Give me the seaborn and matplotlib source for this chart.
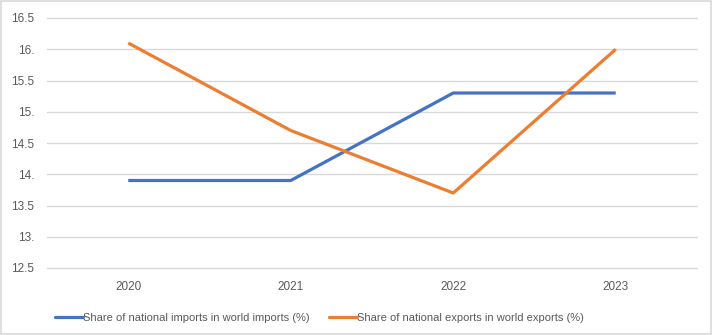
import matplotlib
matplotlib.use("Agg")
import matplotlib.pyplot as plt
import seaborn as sns
import pandas as pd
from matplotlib.lines import Line2D

years = ["2020", "2021", "2022", "2023"]
imports_share = [13.9, 13.9, 15.3, 15.3]
exports_share = [16.1, 14.7, 13.7, 16.0]
series_names = [
    "Share of national imports in world imports (%)",
    "Share of national exports in world exports (%)",
]
ytick_values = [12.5, 13.0, 13.5, 14.0, 14.5, 15.0, 15.5, 16.0, 16.5]
ytick_labels = ["12.5", "13.", "13.5", "14.", "14.5", "15.", "15.5", "16.", "16.5"]

sns.set_theme(style="white")
plt.rcParams["font.family"] = ["Liberation Sans", "DejaVu Sans"]

df = pd.DataFrame({
    "pos": list(range(len(years))) * 2,
    "value": imports_share + exports_share,
    "series": [series_names[0]] * len(years) + [series_names[1]] * len(years),
})

fig = plt.figure(figsize=(7.12, 3.35), dpi=100)
W, H = 712, 335
ax = fig.add_axes([47 / W, 1 - 268 / H, 650 / W, 250 / H])

palette = {series_names[0]: "#4472C4", series_names[1]: "#ED7D31"}
sns.lineplot(data=df, x="pos", y="value", hue="series", palette=palette,
             linewidth=2.3, ax=ax, legend=False, solid_capstyle="butt")

ax.set_xlim(-0.5, len(years) - 0.5)
ax.set_ylim(12.5, 16.5)
ax.set_xticks(range(len(years)))
ax.set_xticklabels(years)
ax.set_yticks(ytick_values)
ax.set_yticklabels(ytick_labels)
ax.tick_params(axis="both", length=0, labelsize=8.5, colors="#595959")
ax.tick_params(axis="x", pad=9)
ax.tick_params(axis="y", pad=9)
ax.set_xlabel("")
ax.set_ylabel("")
for s in ax.spines.values():
    s.set_visible(False)
ax.grid(axis="y", color="#D9D9D9", linewidth=1.0)
for gl in ax.get_ygridlines():
    gl.set_clip_on(False)
ax.set_axisbelow(True)

handles = [Line2D([0], [0], color=palette[n], linewidth=2.3) for n in series_names]
fig.legend(handles, series_names, loc="center left", bbox_to_anchor=(55 / W, 1 - 318 / H),
           ncol=2, frameon=False, fontsize=8, handlelength=2.5, handletextpad=0.0,
           columnspacing=1.8, labelcolor="#595959", borderaxespad=0, borderpad=0)

fig.patches.append(plt.Rectangle((0.002, 0.003), 0.996, 0.994, transform=fig.transFigure,
                                 fill=False, edgecolor="#D9D9D9", linewidth=1.2))

fig.savefig("out.png", dpi=100)
